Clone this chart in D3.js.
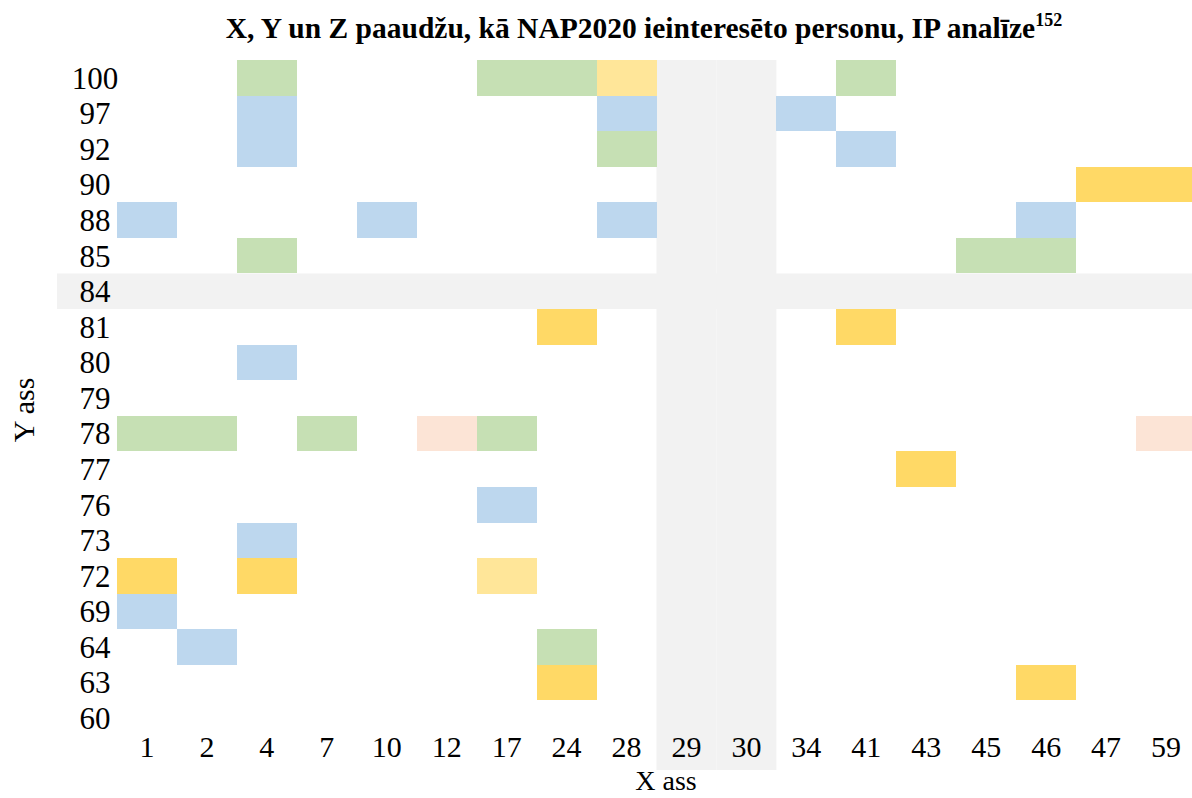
<!DOCTYPE html>
<html>
<head>
<meta charset="utf-8">
<script src="https://cdn.jsdelivr.net/npm/d3@7"></script>
<style>
  html, body { margin: 0; padding: 0; background: #fff; }
  svg { display: block; font-family: "Liberation Serif", "Times New Roman", serif; }
</style>
</head>
<body>
<div id="chart"></div>
<script>
// X and Y categories (as shown on the axes)
const xCats = ['1', '2', '4', '7', '10', '12', '17', '24', '28', '29', '30', '34', '41', '43', '45', '46', '47', '59'];
const yCats = ['100', '97', '92', '90', '88', '85', '84', '81', '80', '79', '78', '77', '76', '73', '72', '69', '64', '63', '60'];

// highlighted bands (whole column / whole row)
const bandCols = ['29', '30'];
const bandRows = ['84'];

// cells: [x, y, group]
const cells = [
  ['4', '100', 'green'], ['17', '100', 'green'], ['24', '100', 'green'], ['28', '100', 'lightYellow'], ['41', '100', 'green'],
  ['4', '97', 'blue'], ['28', '97', 'blue'], ['34', '97', 'blue'],
  ['4', '92', 'blue'], ['28', '92', 'green'], ['41', '92', 'blue'],
  ['47', '90', 'yellow'], ['59', '90', 'yellow'],
  ['1', '88', 'blue'], ['10', '88', 'blue'], ['28', '88', 'blue'], ['46', '88', 'blue'],
  ['4', '85', 'green'], ['45', '85', 'green'], ['46', '85', 'green'],
  ['24', '81', 'yellow'], ['41', '81', 'yellow'],
  ['4', '80', 'blue'],
  ['1', '78', 'green'], ['2', '78', 'green'], ['7', '78', 'green'], ['12', '78', 'pink'], ['17', '78', 'green'], ['59', '78', 'pink'],
  ['43', '77', 'yellow'],
  ['17', '76', 'blue'],
  ['4', '73', 'blue'],
  ['1', '72', 'yellow'], ['4', '72', 'yellow'], ['17', '72', 'lightYellow'],
  ['1', '69', 'blue'],
  ['2', '64', 'blue'], ['24', '64', 'green'],
  ['24', '63', 'yellow'], ['46', '63', 'yellow']
];

const groups = ['green', 'blue', 'yellow', 'lightYellow', 'pink'];
const groupColors = ['#c6e0b4', '#bdd7ee', '#ffd966', '#ffe699', '#fce4d6'];

const width = 1192, height = 798;
const svg = d3.select('#chart').append('svg')
  .attr('width', width)
  .attr('height', height);

const x = d3.scaleBand().domain(xCats).range([117, 1196]).padding(0);
const y = d3.scaleBand().domain(yCats).range([60, 736]).padding(0);
const color = d3.scaleOrdinal().domain(groups).range(groupColors);

// gray bands
svg.append('g').selectAll('rect.colband')
  .data(bandCols)
  .join('rect')
  .attr('x', d => x(d))
  .attr('y', y.range()[0])
  .attr('width', x.bandwidth())
  .attr('height', y.range()[1] - y.range()[0] + 34)
  .attr('fill', '#f2f2f2');

svg.append('g').selectAll('rect.rowband')
  .data(bandRows)
  .join('rect')
  .attr('x', 57)
  .attr('y', d => y(d))
  .attr('width', width - 57)
  .attr('height', y.bandwidth())
  .attr('fill', '#f2f2f2');

// cells
svg.append('g').selectAll('rect.cell')
  .data(cells)
  .join('rect')
  .attr('x', d => x(d[0]))
  .attr('y', d => y(d[1]))
  .attr('width', x.bandwidth())
  .attr('height', y.bandwidth())
  .attr('fill', d => color(d[2]))
  .attr('shape-rendering', 'crispEdges');

// Y axis labels
svg.append('g').selectAll('text')
  .data(yCats)
  .join('text')
  .attr('x', 95)
  .attr('y', d => y(d) + y.bandwidth() / 2)
  .attr('dy', '0.35em')
  .attr('text-anchor', 'middle')
  .attr('font-size', 31)
  .text(d => d);

// X axis labels
svg.append('g').selectAll('text')
  .data(xCats)
  .join('text')
  .attr('x', d => x(d) + x.bandwidth() / 2)
  .attr('y', 757)
  .attr('text-anchor', 'middle')
  .attr('font-size', 30)
  .text(d => d);

// axis titles
svg.append('text')
  .attr('x', 666)
  .attr('y', 790)
  .attr('text-anchor', 'middle')
  .attr('font-size', 28)
  .text('X ass');

svg.append('text')
  .attr('transform', 'translate(34,410) rotate(-90)')
  .attr('text-anchor', 'middle')
  .attr('font-size', 30)
  .text('Y ass');

// chart title with superscript
const title = svg.append('text')
  .attr('x', 644)
  .attr('y', 38)
  .attr('text-anchor', 'middle')
  .attr('font-size', 29.5)
  .attr('font-weight', 'bold');
title.append('tspan').text('X, Y un Z paaudžu, kā NAP2020 ieinteresēto personu, IP analīze');
title.append('tspan').attr('font-size', 18).attr('dy', -12).text('152');
</script>
</body>
</html>
